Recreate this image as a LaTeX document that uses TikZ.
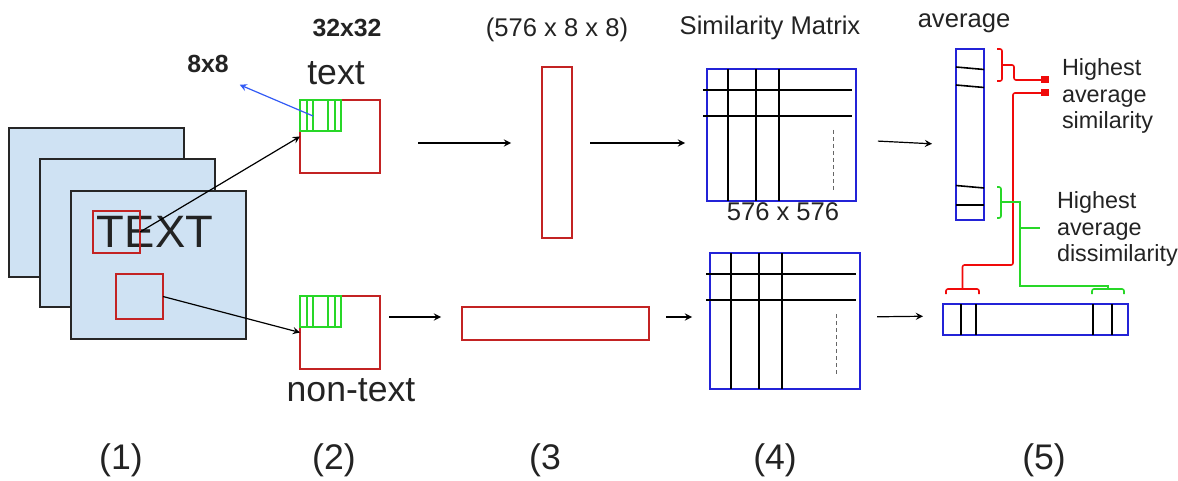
\documentclass[tikz,border=0pt]{standalone}
\usepackage{fontspec}
\setmainfont{Liberation Sans}
\usetikzlibrary{arrows}
\tikzstyle{arrow} = [semithick,->,>=stealth]
\definecolor{pagefill}{RGB}{207,226,243}
\definecolor{cropred}{RGB}{195,35,35}
\definecolor{markred}{RGB}{240,10,10}
\definecolor{gridgreen}{RGB}{40,215,40}
\definecolor{matblue}{RGB}{35,35,215}
\definecolor{pickblue}{RGB}{50,90,245}
\definecolor{ink}{RGB}{35,35,35}
\def\pxu{0.5pt}

\begin{document}
\begin{tikzpicture}[x=0.5pt, y=-0.5pt,
            every node/.style={inner sep=0pt, outer sep=0pt, text=ink},
            sz/.style 2 args={minimum width=#1*\pxu, minimum height=#2*\pxu},
            page/.style={draw=black!85, line width=1pt, fill=pagefill},
            crop/.style={draw=cropred, line width=0.9pt},
            gline/.style={draw=gridgreen, line width=0.9pt},
            rline/.style={draw=markred, line width=0.8pt, rounded corners=1pt},
            mat/.style={draw=matblue, line width=1pt},
            cell/.style={draw=black, line width=0.8pt},
            dots/.style={draw=black!60, line width=0.5pt, dash pattern=on 2pt off 1.5pt},
            lbl/.style={font=\fontsize{12.8}{15}\selectfont},
            big/.style={font=\fontsize{17.8}{20}\selectfont},
            note/.style={font=\fontsize{11.7}{13.4}\selectfont, align=left, anchor=west}
        ]
    \useasboundingbox (0,0) rectangle (1178,481);

    % (1) input pages
    \node[page, sz={175}{148}] (pg1) at (96.5,202.5) {};
    \node[page, sz={175}{148}] (pg2) at (127.5,233) {};
    \node[page, sz={175}{148}] (pg3) at (158.5,264.5) {};
    \node[font=\fontsize{22.7}{26}\selectfont] (word) at (155,232) {TEXT};
    \node[crop, sz={47}{42}] (r1) at (116.5,232) {};
    \node[crop, sz={47}{45}] (r2) at (139.5,296.5) {};

    % (2) crops
    \node[crop, sz={80}{73}] (tbox) at (340,136.5) {};
    \node[crop, sz={80}{73}] (nbox) at (340,332.5) {};
    \foreach \b in {tbox,nbox} {
        \node[gline, sz={41}{31}, anchor=north west] (g\b) at (\b.north west) {};
        \foreach \gx in {7,13,28,35}
            \draw[gline] ([xshift=\gx*\pxu]g\b.north west) -- ([xshift=\gx*\pxu]g\b.south west);
    }
    \node[big] (ttext) at (336,73) {text};
    \node[big] (ntext) at (351,390) {non-text};
    \node[lbl, font=\fontsize{12.4}{15}\selectfont\bfseries] (l32) at (347,28) {32x32};
    \node[lbl, font=\fontsize{12.4}{15}\selectfont\bfseries] (l8) at (208,64) {8x8};
    \coordinate (g8) at (313,116);
    \draw[arrow, pickblue] (g8) -- ([shift={(11*\pxu,-12*\pxu)}]l8.south east);
    \draw[arrow] (r1.east) -- (tbox.west);
    \draw[arrow] (r2.east) -- (nbox.west);

    % (3) features
    \node[crop, sz={30}{171}] (tall) at (557,152.5) {};
    \node[crop, sz={187}{33}] (wide) at (555.5,323.5) {};
    \node[lbl] (l576) at (557,30) {(576 x 8 x 8)};
    \draw[arrow, shorten <=38*\pxu, shorten >=31*\pxu] (tbox.east |- 0,143) -- (tall.west |- 0,143);
    \draw[arrow, shorten <=9*\pxu, shorten >=21*\pxu] (nbox.east |- 0,317) -- (wide.west |- 0,317);

    % (4) similarity matrices
    \node[mat, sz={149}{132}] (mA) at (781.5,135) {};
    \node[mat, sz={150}{136}] (mB) at (785,321) {};
    \foreach \m in {mA,mB} {
        \foreach \vx in {21,49,72}
            \draw[cell] ([xshift=\vx*\pxu]\m.north west) -- ([xshift=\vx*\pxu]\m.south west);
        \foreach \hy in {21,47}
            \draw[cell] ([shift={(-4*\pxu,-\hy*\pxu)}]\m.north west) -- ([shift={(-4*\pxu,-\hy*\pxu)}]\m.north east);
        \draw[dots] ([shift={(126*\pxu,-61*\pxu)}]\m.north west) -- ([shift={(126*\pxu,-121*\pxu)}]\m.north west);
    }
    \node[lbl] (lsim) at (770,28) {Similarity Matrix};
    \node[lbl] (lsize) at (783,212) {576 x 576};
    \draw[arrow, shorten <=18*\pxu, shorten >=22*\pxu] (tall.east |- 0,143) -- (mA.west |- 0,143);
    \draw[arrow, shorten <=17*\pxu, shorten >=18*\pxu] (wide.east |- 0,317) -- (mB.west |- 0,317);

    % (5) averages and selection
    \node[mat, sz={28}{171}] (avg) at (970,134.5) {};
    \foreach \ly/\ry in {67/69.5,85/87.5,185.5/188,205/205}
        \draw[cell] (avg.west |- 0,\ly) -- (avg.east |- 0,\ry);
    \node[mat, sz={185}{31}] (sel) at (1035.5,319.5) {};
    \foreach \vx in {961,976,1093,1112}
        \draw[cell] (\vx,0 |- sel.north) -- (\vx,0 |- sel.south);
    \node[lbl] (lavg) at (964,23) {average};
    \draw[arrow, shorten <=22*\pxu, shorten >=24*\pxu] (mA.east |- 0,140) -- (avg.west |- 0,145);
    \draw[arrow, shorten <=17*\pxu, shorten >=20*\pxu] (mB.east |- 0,317) -- (sel.west |- 0,316);

    \node[fill=markred, sz={8}{7}] (sqA) at (1045,80) {};
    \node[fill=markred, sz={8}{7}] (sqB) at (1045,93) {};
    \node[note] (hs) at (1062,96) {Highest\\average\\similarity};
    \node[note] (hd) at (1057,229) {Highest\\average\\dissimilarity};
    \coordinate (brR) at (962.5,289);
    \coordinate (brG) at (1108,289);

    \draw[rline] (997,49) -- (1002,49) -- (1002,81) -- (997,81);
    \draw[rline] (sqA.west) -| (1014,65) -- (1002,65);
    \draw[rline] (sqB.west) -| (1013,265) -| (brR);
    \draw[rline] (946,294) -- (946,289) -- (979,289) -- (979,294);

    \draw[gline, line width=0.8pt, rounded corners=1pt] (997,187) -- (1001,187) -- (1001,218) -- (997,218);
    \draw[gline, line width=0.8pt] (1001,202) -| (1020,286) -| (brG);
    \draw[gline, line width=0.8pt] (1020,228) -- (1040,228);
    \draw[gline, line width=0.8pt, rounded corners=1pt] (1092,294) -- (1092,289) -- (1124,289) -- (1124,294);

    % step labels
    \foreach \sx/\st in {121/(1),334/(2),545/(3,775/(4),1044/(5)}
        \node[big] at (\sx,460) {\st};
\end{tikzpicture}
\end{document}
